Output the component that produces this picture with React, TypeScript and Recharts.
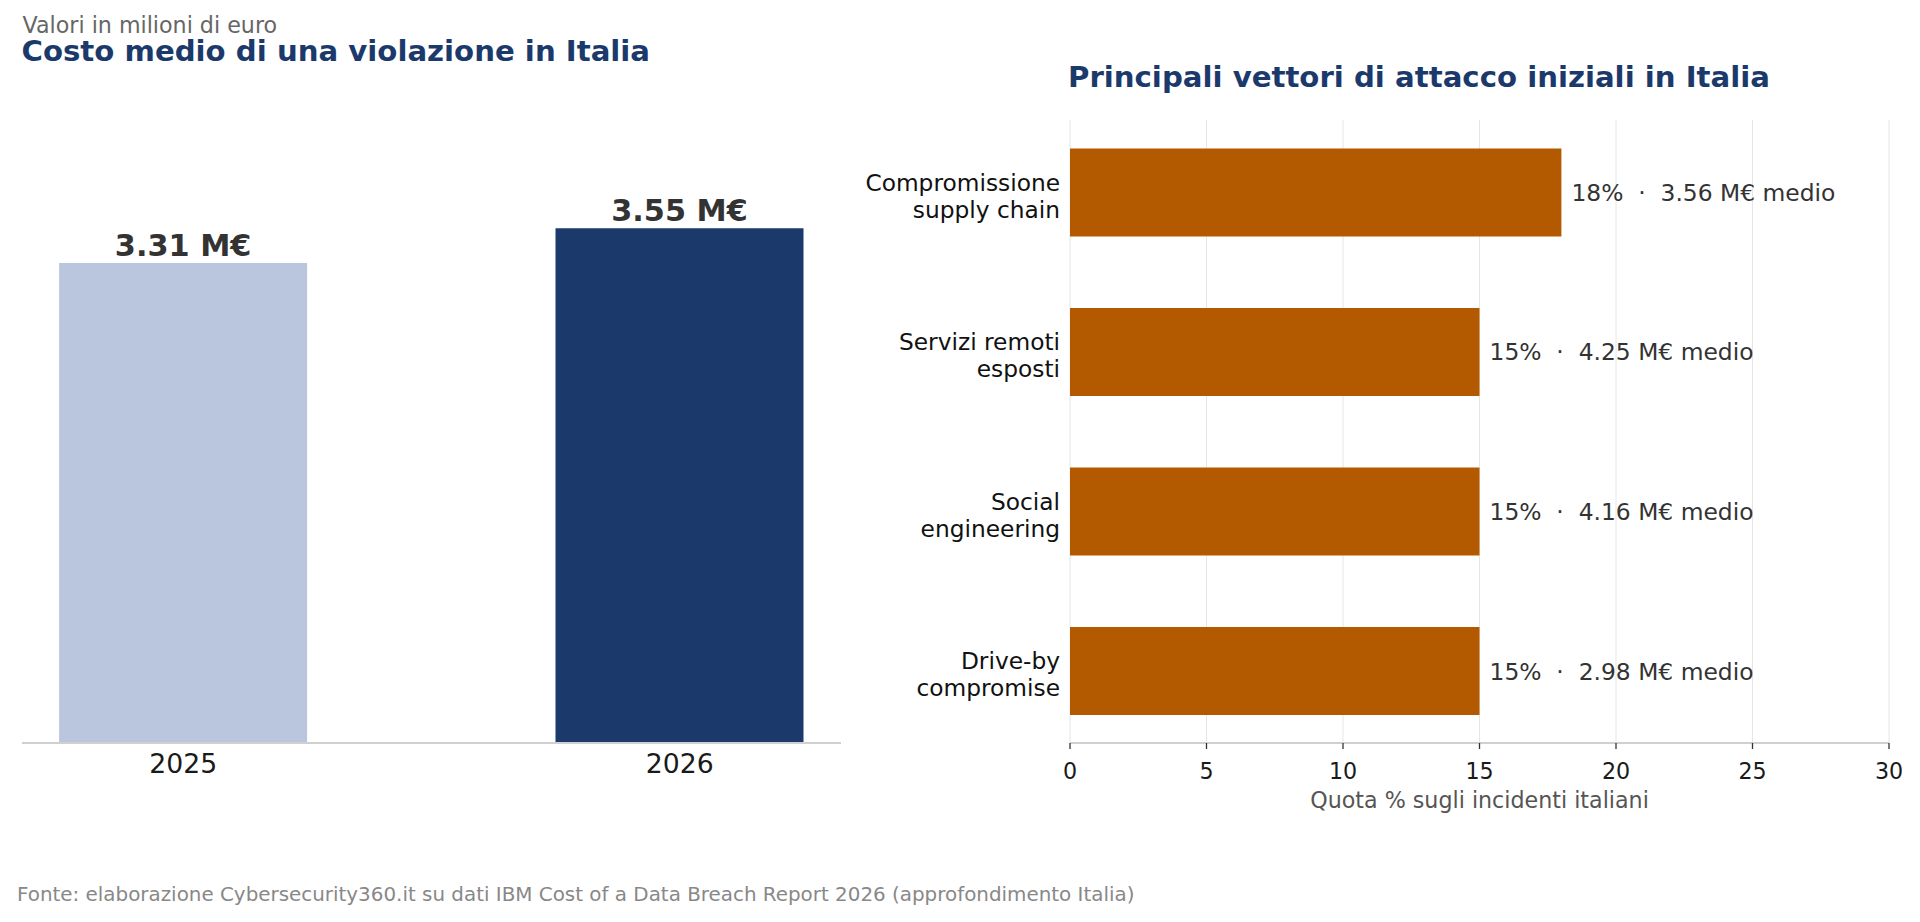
import React from 'react';
import { BarChart, Bar, XAxis, YAxis, CartesianGrid, Cell, LabelList } from 'recharts';

const FONT = "'DejaVu Sans', sans-serif";

// Left chart data
const years = ['2025', '2026'];
const avgCost = [3.31, 3.55];
const yearColors = ['#bac6de', '#1b3a6b'];

// Right chart data
const vectorLines = [
  ['Compromissione', 'supply chain'],
  ['Servizi remoti', 'esposti'],
  ['Social', 'engineering'],
  ['Drive-by', 'compromise'],
];
const vectorShare = [18, 15, 15, 15];
const vectorCost = [3.56, 4.25, 4.16, 2.98];
const shareTicks = [0, 5, 10, 15, 20, 25, 30];

const costData = years.map((year, i) => ({
  idx: i,
  year,
  cost: avgCost[i],
  costLabel: `${avgCost[i].toFixed(2)} M€`,
}));

const vectorData = vectorLines.map((lines, i) => ({
  idx: i,
  share: vectorShare[i],
  label: `${vectorShare[i]}%  ·  ${vectorCost[i].toFixed(2)} M€ medio`,
}));

const YearTick = (props: any) => {
  const { x, y, payload } = props;
  return (
    <text x={x} y={y + 29.5} textAnchor="middle" fontFamily={FONT} fontSize={26.7} fill="#1a1a1a">
      {years[payload.value]}
    </text>
  );
};

const ShareTick = (props: any) => {
  const { x, y, payload } = props;
  return (
    <text x={x} y={y + 28.3} textAnchor="middle" fontFamily={FONT} fontSize={22.2} fill="#1a1a1a">
      {payload.value}
    </text>
  );
};

const VectorTick = (props: any) => {
  const { x, y, payload } = props;
  const lines = vectorLines[payload.value] || [];
  return (
    <text x={x} y={y} textAnchor="end" fontFamily={FONT} fontSize={23.3} fill="#111">
      <tspan x={x} y={y - 1.5}>{lines[0]}</tspan>
      <tspan x={x} y={y + 25.5}>{lines[1]}</tspan>
    </text>
  );
};

const CostLabel = (props: any) => {
  const { x, y, width, value } = props;
  return (
    <text x={x + width / 2} y={y - 7} textAnchor="middle" fontFamily={FONT} fontWeight="bold" fontSize={30.3} fill="#333">
      {value}
    </text>
  );
};

const ShareLabel = (props: any) => {
  const { x, y, width, height, value } = props;
  return (
    <text x={x + width + 10} y={y + height / 2 + 8.5} textAnchor="start" fontFamily={FONT} fontSize={23.4} fill="#333" style={{ whiteSpace: 'pre' }}>
      {value}
    </text>
  );
};

export default function App() {
  return (
    <div style={{ position: 'absolute', left: 0, top: 0, width: 1920, height: 922, background: '#fff', overflow: 'hidden' }}>
      <div style={{ position: 'absolute', left: 0, top: 0 }}>
        <BarChart width={880} height={922} data={costData} margin={{ top: 120, right: 39, bottom: 149, left: 22 }}>
          <XAxis
            type="number"
            dataKey="idx"
            domain={[-0.325, 1.325]}
            ticks={[0, 1]}
            allowDataOverflow
            height={30}
            axisLine={{ stroke: '#d0d0d0', strokeWidth: 1.8 }}
            tickLine={false}
            tickSize={0}
            tickMargin={0}
            tick={<YearTick />}
            interval={0}
          />
          <YAxis type="number" domain={[0, 4.297]} allowDataOverflow hide />
          <Bar dataKey="cost" barSize={248} isAnimationActive={false}>
            {costData.map((d, i) => (
              <Cell key={d.year} fill={yearColors[i]} />
            ))}
            <LabelList dataKey="costLabel" content={<CostLabel />} />
          </Bar>
        </BarChart>
      </div>

      <div style={{ position: 'absolute', left: 800, top: 0 }}>
        <BarChart layout="vertical" width={1120} height={922} data={vectorData} margin={{ top: 120, right: 31, bottom: 149, left: 0 }}>
          <CartesianGrid horizontal={false} vertical={true} stroke="#e6e6e6" strokeWidth={1} />
          <XAxis
            type="number"
            dataKey="share"
            domain={[0, 30]}
            ticks={shareTicks}
            allowDataOverflow
            height={30}
            axisLine={{ stroke: '#d0d0d0', strokeWidth: 1.8 }}
            tickLine={{ stroke: '#333', strokeWidth: 1.3 }}
            tickSize={6}
            tickMargin={2}
            tick={<ShareTick />}
            interval={0}
          />
          <YAxis
            type="number"
            dataKey="idx"
            domain={[-0.4525, 3.4525]}
            ticks={[0, 1, 2, 3]}
            allowDataOverflow
            width={270}
            axisLine={false}
            tickLine={false}
            tickSize={0}
            tickMargin={10}
            tick={<VectorTick />}
            interval={0}
          />
          <Bar dataKey="share" fill="#b35900" barSize={88} isAnimationActive={false}>
            <LabelList dataKey="label" content={<ShareLabel />} />
          </Bar>
        </BarChart>
      </div>

      <svg width={1920} height={922} style={{ position: 'absolute', left: 0, top: 0, pointerEvents: 'none' }}>
        <text x={22.5} y={33} fontFamily={FONT} fontSize={22.2} fill="#666">Valori in milioni di euro</text>
        <text x={21.5} y={61} fontFamily={FONT} fontWeight="bold" fontSize={29.2} fill="#1b3a6b">Costo medio di una violazione in Italia</text>
        <text x={1068} y={87} fontFamily={FONT} fontWeight="bold" fontSize={29.2} fill="#1b3a6b">Principali vettori di attacco iniziali in Italia</text>
        <text x={1479.5} y={808} textAnchor="middle" fontFamily={FONT} fontSize={22.2} fill="#555">Quota % sugli incidenti italiani</text>
        <text x={17} y={900.7} fontFamily={FONT} fontSize={19.9} fill="#888">Fonte: elaborazione Cybersecurity360.it su dati IBM Cost of a Data Breach Report 2026 (approfondimento Italia)</text>
      </svg>
    </div>
  );
}
